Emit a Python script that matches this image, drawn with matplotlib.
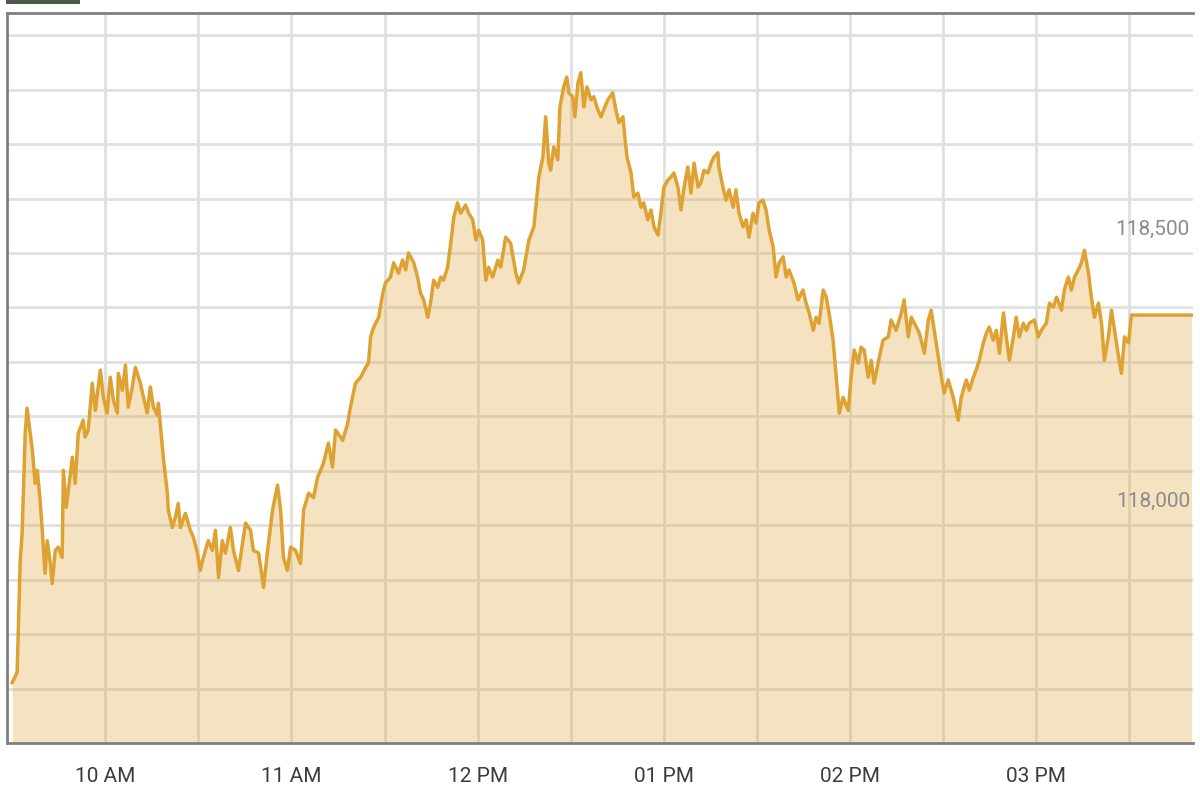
import numpy as np
import matplotlib.pyplot as plt
from matplotlib.patches import Rectangle
from matplotlib import transforms

plt.rcParams['font.family'] = ['Roboto', 'DejaVu Sans']

# minutes after 09:30 and traded price
minutes = [
    0, 1.6, 2.6, 3.2, 4.2, 4.8, 6.5, 7.4, 8.1, 9.0, 9.7, 10.6, 11.3, 12.3, 12.9, 13.9,
    14.8, 16.1, 16.5, 17.4, 18.1, 19.4, 20.3, 21.3, 22.9, 23.5, 24.5, 25.8, 26.8, 28.4,
    29.4, 30.6, 31.6, 32.6, 33.9, 34.2, 35.5, 36.5, 37.4, 38.7, 39.7, 41.3, 42.3, 43.5,
    44.5, 45.5, 46.8, 47.1, 48.4, 48.7, 50.0, 50.3, 51.6, 52.6, 53.5, 54.2, 55.8, 57.4,
    58.4, 59.7, 60.6, 61.6, 63.2, 64.5, 65.5, 66.5, 67.7, 68.7, 70.3, 71.3, 72.9, 75.2,
    76.8, 77.7, 79.4, 81.0, 82.3, 83.9, 85.5, 86.5, 87.4, 88.7, 89.7, 91.3, 92.9, 93.9,
    95.5, 97.1, 98.4, 100.3, 101.9, 103.2, 104.2, 106.5, 108.1, 109.0, 110.6, 112.3,
    113.9, 114.8, 115.5, 116.5, 118.1, 119.4, 120.3, 121.9, 122.9, 124.5, 125.8, 126.8,
    127.7, 129.4, 130.6, 131.6, 132.6, 133.9, 134.8, 135.8, 137.1, 138.1, 139.0, 140.3,
    141.3, 142.3, 143.5, 144.5, 146.1, 147.1, 148.4, 149.4, 150.3, 151.6, 152.6, 153.5,
    154.8, 156.5, 157.4, 159.0, 160.6, 162.3, 163.2, 164.8, 166.5, 168.1, 169.7, 171.0,
    171.9, 172.9, 173.5, 174.5, 175.8, 176.5, 177.7, 178.7, 179.4, 180.6, 181.3, 182.3,
    183.2, 184.2, 185.2, 186.5, 187.4, 188.7, 189.7, 190.6, 191.9, 193.5, 194.5, 195.5,
    196.8, 197.4, 198.1, 199.4, 200.3, 201.6, 202.6, 203.5, 204.8, 205.8, 206.8, 208.1,
    209.0, 210.0, 211.3, 212.3, 213.2, 214.5, 215.5, 216.5, 217.7, 218.7, 219.7, 221.0,
    221.9, 222.9, 224.2, 225.2, 226.1, 227.4, 227.7, 229.0, 230.0, 231.0, 232.3, 233.2,
    234.2, 235.5, 236.5, 237.4, 238.7, 239.7, 240.6, 241.9, 242.9, 243.9, 245.2, 246.1,
    247.1, 248.4, 249.4, 250.3, 251.9, 253.2, 254.8, 255.8, 256.8, 258.1, 259.0, 260.0,
    261.3, 262.3, 263.2, 264.5, 265.5, 266.5, 267.7, 269.4, 270.3, 271.3, 272.6, 273.5,
    274.5, 275.8, 276.8, 277.7, 279.0, 280.6, 282.3, 283.2, 284.8, 286.5, 287.4, 288.7,
    289.7, 291.3, 292.3, 293.9, 295.2, 296.1, 297.1, 298.4, 299.4, 300.3, 301.6, 303.2,
    304.8, 305.8, 307.4, 308.4, 309.7, 310.6, 311.6, 312.9, 313.9, 314.8, 316.1, 317.1,
    318.1, 319.4, 320.3, 321.3, 322.6, 323.5, 324.5, 325.8, 326.8, 327.7, 329.4, 330.6,
    331.6, 333.2, 334.2, 335.5, 336.5, 338.1, 339.0, 340.3, 341.3, 342.3, 343.5, 344.5,
    345.5, 346.8, 347.7, 348.7, 350.0, 351.0, 351.9, 353.2, 354.2, 355.2, 356.5, 357.4,
    358.4, 359.7, 360.6, 380.0,
]
price = [
    117711, 117730, 117936, 117985, 118169, 118215, 118138, 118077, 118101, 118046, 117991,
    117912, 117972, 117930, 117893, 117954, 117960, 117941, 118101, 118033, 118064, 118125,
    118077, 118169, 118193, 118162, 118175, 118261, 118211, 118285, 118235, 118206, 118272,
    118230, 118206, 118279, 118248, 118294, 118217, 118254, 118290, 118261, 118235, 118206,
    118254, 118217, 118202, 118224, 118143, 118125, 118059, 118028, 117996, 118015, 118040,
    117996, 118022, 117991, 117978, 117949, 117917, 117941, 117972, 117954, 117991, 117904,
    117972, 117949, 117996, 117954, 117917, 118004, 117991, 117954, 117949, 117886, 117954,
    118028, 118074, 118028, 117941, 117917, 117960, 117954, 117930, 118028, 118059, 118051,
    118088, 118114, 118151, 118107, 118175, 118156, 118187, 118217, 118261, 118272, 118290,
    118298, 118346, 118364, 118382, 118426, 118445, 118456, 118482, 118463, 118487, 118469,
    118500, 118482, 118456, 118426, 118414, 118382, 118408, 118450, 118437, 118456, 118450,
    118474, 118518, 118566, 118592, 118573, 118588, 118573, 118561, 118524, 118542, 118524,
    118450, 118474, 118456, 118487, 118474, 118529, 118518, 118463, 118445, 118469, 118524,
    118548, 118640, 118676, 118750, 118665, 118652, 118695, 118671, 118768, 118805, 118823,
    118794, 118787, 118750, 118812, 118831, 118768, 118805, 118781, 118787, 118763, 118750,
    118763, 118781, 118794, 118763, 118739, 118750, 118713, 118676, 118647, 118603, 118610,
    118584, 118592, 118561, 118579, 118548, 118533, 118573, 118621, 118634, 118640, 118647,
    118621, 118579, 118621, 118658, 118610, 118665, 118621, 118629, 118652, 118647, 118665,
    118676, 118684, 118658, 118621, 118597, 118616, 118584, 118616, 118573, 118548, 118561,
    118529, 118573, 118555, 118592, 118597, 118579, 118542, 118511, 118456, 118482, 118493,
    118456, 118469, 118445, 118414, 118432, 118408, 118390, 118358, 118382, 118371, 118432,
    118419, 118390, 118340, 118272, 118206, 118235, 118211, 118272, 118322, 118298, 118327,
    118322, 118272, 118303, 118261, 118298, 118340, 118346, 118377, 118358, 118390, 118414,
    118346, 118382, 118364, 118353, 118316, 118377, 118395, 118358, 118309, 118272, 118243,
    118267, 118235, 118193, 118235, 118267, 118248, 118272, 118285, 118303, 118335, 118353,
    118364, 118340, 118358, 118316, 118390, 118346, 118303, 118346, 118382, 118346, 118371,
    118358, 118371, 118377, 118346, 118358, 118371, 118408, 118401, 118419, 118395, 118432,
    118456, 118432, 118456, 118469, 118482, 118505, 118463, 118419, 118382, 118408, 118371,
    118303, 118346, 118395, 118358, 118309, 118279, 118346, 118335, 118386, 118386,
]

half_hours = list(range(30, 361, 30))
time_labels = ['10 AM', '', '11 AM', '', '12 PM', '', '01 PM', '', '02 PM', '', '03 PM', '']
price_grid = list(range(117700, 118901, 100))
price_marks = [118000, 118500]

gold = '#dea232'
y_min, y_max = 117600, 118941

fig = plt.figure(figsize=(12, 8), dpi=100)
ax = fig.add_axes([0.006, 0.071, 0.988, 0.913])

ax.fill_between(minutes, price, y_min, color=gold, alpha=0.3, lw=0, zorder=2)
ax.plot(minutes, price, color=gold, lw=2.5, zorder=3, solid_joinstyle='round')

ax.set_xlim(-1.6, 380.4)
ax.set_ylim(y_min, y_max)

ax.set_xticks(half_hours)
ax.set_xticklabels(time_labels)
ax.set_yticks(price_grid)
ax.set_yticklabels([])
ax.tick_params(length=0)
ax.tick_params(axis='x', pad=17, labelsize=15, labelcolor='#3c3c3c')
ax.grid(True, color='#e0e0e0', lw=2)
ax.set_axisbelow(True)

for side in ['left', 'top', 'bottom']:
    ax.spines[side].set_color('#7f7f7f')
    ax.spines[side].set_linewidth(2)
ax.spines['right'].set_visible(False)

lift = transforms.offset_copy(ax.transData, fig=fig, x=0, y=17, units='points')
for p in price_marks:
    ax.text(379.5, p, f'{p:,}', transform=lift, ha='right', va='center',
            fontsize=15, color='#8c8c8c', zorder=4)

# bit of the page header peeking in at top left
fig.patches.append(Rectangle((0.005, 0.995), 0.062, 0.005, transform=fig.transFigure,
                             facecolor='#4b5a4b', edgecolor='none'))

fig.savefig('out.png', dpi=100)
